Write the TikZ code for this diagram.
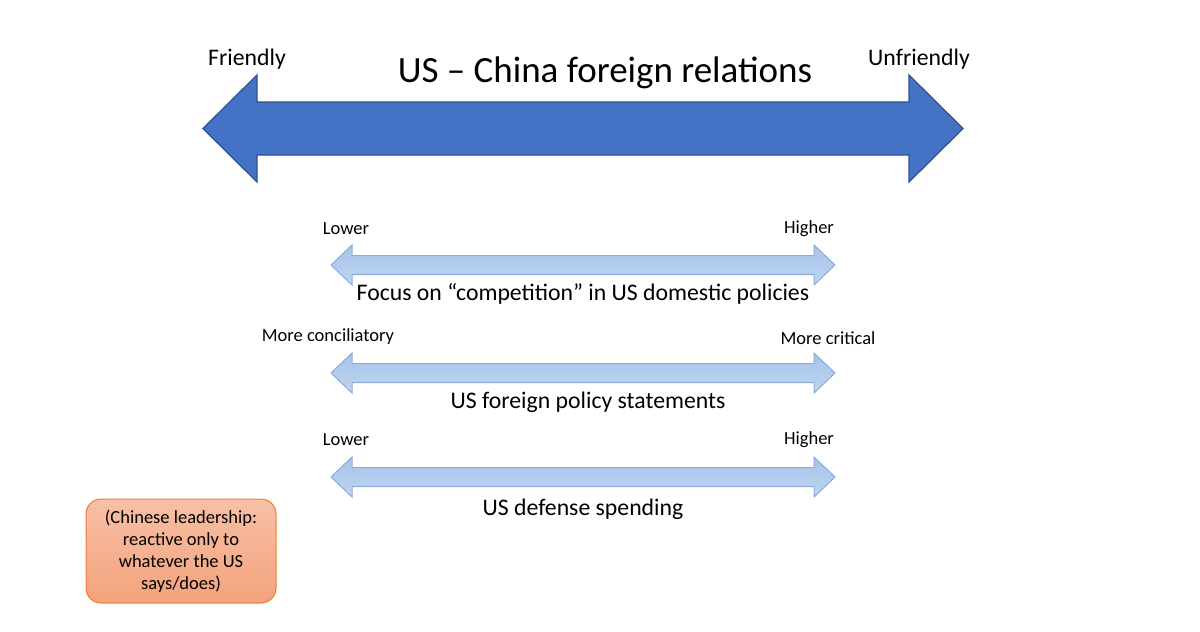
\documentclass[tikz,border=0pt]{standalone}
\usepackage{fontspec}
\setmainfont{Carlito}
\definecolor{bigfill}{HTML}{4472C4}
\definecolor{bigline}{HTML}{2F528F}
\definecolor{smtop}{HTML}{A6C3EA}
\definecolor{smbot}{HTML}{BFD6F0}
\definecolor{smline}{HTML}{8EAADB}
\definecolor{ortop}{HTML}{F7C0A6}
\definecolor{orbot}{HTML}{F4A27C}
\definecolor{orline}{HTML}{ED7D31}
\tikzset{
  lbl/.style={inner sep=0pt, font=\fontsize{19}{22}\selectfont},
  small/.style={inner sep=0pt, font=\fontsize{14.8}{17}\selectfont},
  bigarrow/.style={fill=bigfill, draw=bigline, line width=1pt},
  smallarrow/.style={top color=smtop, bottom color=smbot, draw=smline, line width=0.8pt},
  notebox/.style={rounded corners=12pt, top color=ortop, bottom color=orbot, draw=orline, line width=0.8pt,
    minimum width=190*0.8pt, minimum height=104*0.8pt, align=center, inner sep=0pt,
    font=\fontsize{14.8}{17.6}\selectfont}
}
\begin{document}
\begin{tikzpicture}[x=0.8pt, y=-0.8pt]
\useasboundingbox (0,0) rectangle (1200,631);
% big arrow
\draw[bigarrow] (203,128.5) -- (257,75) -- (257,102) -- (909,102) -- (909,75) -- (963,128.5)
  -- (909,182) -- (909,155) -- (257,155) -- (257,182) -- cycle;
\node[lbl] (friendly) at (247,59) {Friendly};
\node[lbl] (unfriendly) at (919,59) {Unfriendly};
\node[inner sep=0pt, font=\fontsize{29.6}{34}\selectfont] (title) at (605,73) {US – China foreign relations};
% small arrows
\foreach \cy/\nm in {265/a1, 373/a2, 477/a3}{
  \draw[smallarrow] (331,\cy) -- (352,\cy-20) -- (352,\cy-9.5) -- (814,\cy-9.5) -- (814,\cy-20) -- (835,\cy)
    -- (814,\cy+20) -- (814,\cy+9.5) -- (352,\cy+9.5) -- (352,\cy+20) -- cycle;
  \coordinate (\nm) at (583,\cy);
}
\node[small] (l1) at (346,229) {Lower};
\node[small] (h1) at (809,229) {Higher};
\node[lbl] (t1) at (583,294) {Focus on “competition” in US domestic policies};
\node[small] (l2) at (328,337) {More conciliatory};
\node[small] (h2) at (828,338) {More critical};
\node[lbl] (t2) at (588,402) {US foreign policy statements};
\node[small] (l3) at (346,440) {Lower};
\node[small] (h3) at (809,440) {Higher};
\node[lbl] (t3) at (583,509) {US defense spending};
% note box
\node[notebox] (note) at (181,551) {(Chinese leadership:\\reactive only to\\whatever the US\\says/does)};
\end{tikzpicture}
\end{document}
